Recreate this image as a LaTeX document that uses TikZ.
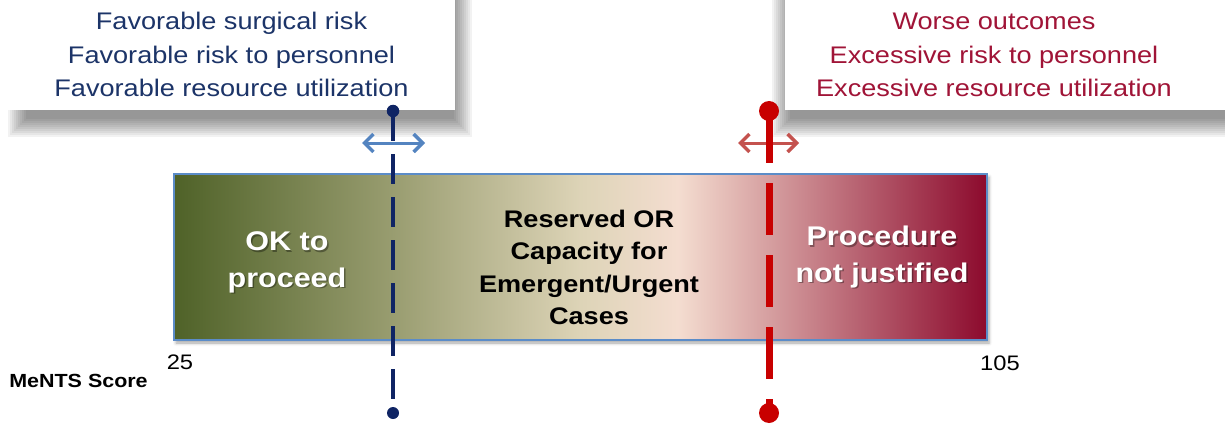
\documentclass[tikz,border=0pt]{standalone}
\usepackage{fontspec}
\setmainfont{Liberation Sans}[FakeStretch=1.13]
\usetikzlibrary{arrows.meta,shadows.blur}
\definecolor{navytext}{RGB}{28,52,104}
\definecolor{redtext}{RGB}{160,20,55}
\definecolor{navyline}{RGB}{15,36,100}
\definecolor{redline}{RGB}{200,0,0}
\definecolor{bluearrow}{RGB}{84,132,192}
\definecolor{redarrow}{RGB}{196,82,78}
\definecolor{barborder}{RGB}{91,140,200}
\pgfdeclarehorizontalshading{barshade}{100bp}{rgb(0bp)=(0.310,0.384,0.157); rgb(25bp)=(0.310,0.384,0.157); rgb(38.5bp)=(0.600,0.615,0.440); rgb(50bp)=(0.867,0.831,0.718); rgb(56bp)=(0.957,0.867,0.816); rgb(75bp)=(0.549,0.039,0.176); rgb(100bp)=(0.549,0.039,0.176)}
\newcommand\mysoftshadow[4]{%
  \foreach \k in {0,...,9}{\fill[black, fill opacity=0.05] ({#1+2*\k},{#2+2*\k}) rectangle ({#3-2*\k},{#4-2*\k});}}
\tikzset{
  calloutbox/.style={fill=white, draw=none, inner sep=0pt},
  toptext/.style={align=center, font=\fontsize{24}{33.4}\selectfont},
  bigwhite/.style={align=center, text=white, font=\bfseries\fontsize{27}{36.5}\selectfont},
  bigshadow/.style={align=center, text=black, text opacity=0.35, font=\bfseries\fontsize{27}{36.5}\selectfont},
  numlabel/.style={anchor=base, font=\fontsize{21}{25}\selectfont},
  dotnode/.style={circle, inner sep=0pt, draw=none},
  barbtip/.tip={Straight Barb[length=9pt,width=18pt,line width'=3.5pt]},
  spreadarrow/.style={line width=3pt, barbtip-barbtip},
}
\begin{document}
\begin{tikzpicture}[x=1pt,y=-1pt]
\useasboundingbox (0,0) rectangle (1225,425);
% soft shadows of the callout boxes
\mysoftshadow{8}{-60}{472}{137}
\mysoftshadow{772}{-60}{1260}{137}
% callout boxes
\node (leftbox) [calloutbox, minimum width=465pt, minimum height=130pt] at (222.5,45) {};
\node (rightbox) [calloutbox, minimum width=460pt, minimum height=130pt] at (1015,45) {};
\node (lefttext) [toptext, text=navytext] at (231.5,54.7) {Favorable surgical risk\\Favorable risk to personnel\\Favorable resource utilization};
\node (righttext) [toptext, text=redtext] at (994,55) {Worse outcomes\\Excessive risk to personnel\\Excessive resource utilization};
% bar
\node (bar) [draw=barborder, line width=1.2pt, shade, shading=barshade, minimum width=813pt, minimum height=166pt, inner sep=0pt,
  blur shadow={shadow xshift=2pt, shadow yshift=-3pt, shadow blur radius=3pt, shadow opacity=35}] at (580.5,257) {};
% spread arrows
\coordinate (blarr) at (362,143);
\coordinate (brarr) at (425,143);
\coordinate (rlarr) at (738,143);
\coordinate (rrarr) at (799,143);
\draw[bluearrow, spreadarrow] (blarr) -- (brarr);
\draw[redarrow, spreadarrow] (rlarr) -- (rrarr);
% threshold lines
\coordinate (bt) at (393,111);
\coordinate (bb) at (393,413);
\coordinate (rt) at (769,111);
\coordinate (rb) at (769,413);
\draw[navyline, line width=4pt, dash pattern=on 30pt off 13pt] (bt) -- (bb);
\draw[redline, line width=7pt, dash pattern=on 52pt off 20pt] (rt) -- (rb);
\node (btdot) [dotnode, fill=navyline, minimum size=12.5pt] at (bt) {};
\node (bbdot) [dotnode, fill=navyline, minimum size=12pt] at (bb) {};
\node (rtdot) [dotnode, fill=redline, minimum size=20pt] at (rt) {};
\node (rbdot) [dotnode, fill=redline, minimum size=20pt] at (rb) {};
% bar texts
\node (okshadow) [bigshadow] at (288.5,263.8) {OK to\\proceed};
\node (ok) [bigwhite] at (287,262.3) {OK to\\proceed};
\node (reserved) [align=center, font=\bfseries\fontsize{24}{32.6}\selectfont] at (589,267.4) {Reserved OR\\Capacity for\\Emergent/Urgent\\Cases};
\node (procshadow) [bigshadow] at (883.5,258.7) {Procedure\\not justified};
\node (proc) [bigwhite] at (882,257.2) {Procedure\\not justified};
% scale labels
\node (n25) [numlabel] at (180,369) {25};
\node (n105) [numlabel] at (1000,370) {105};
\node (ments) [anchor=base, font=\bfseries\fontsize{19}{23}\selectfont] at (78.5,387.7) {MeNTS Score};
\end{tikzpicture}
\end{document}
